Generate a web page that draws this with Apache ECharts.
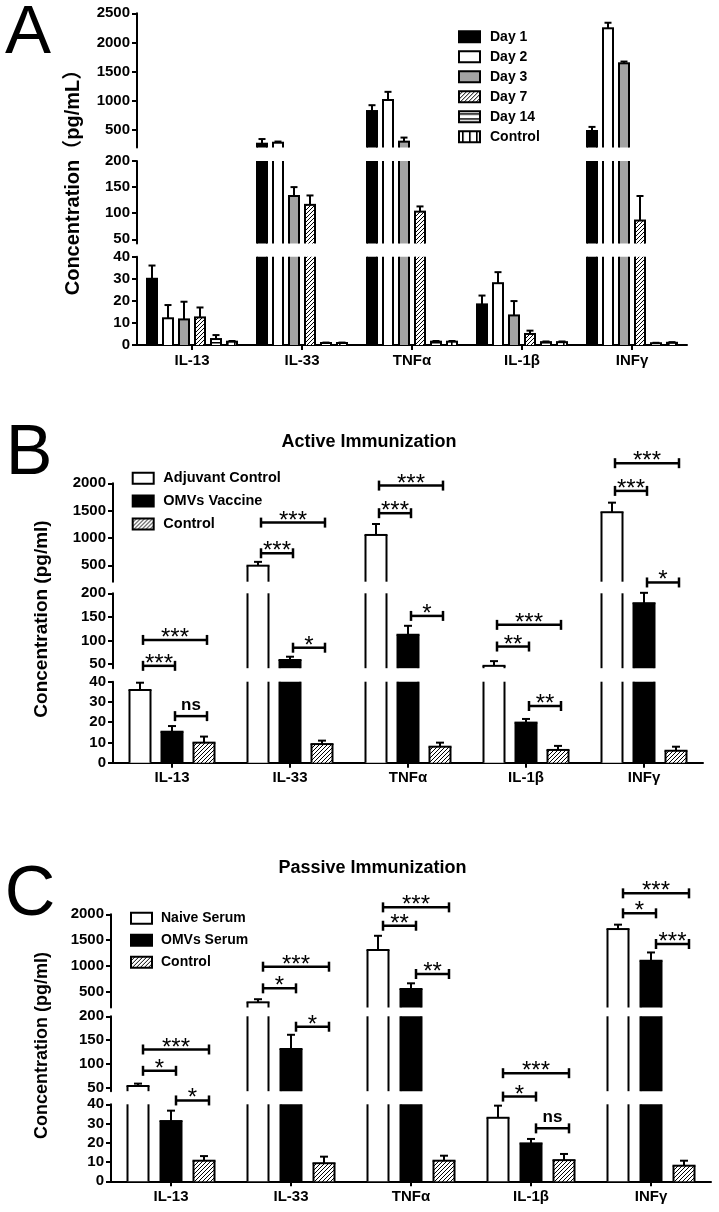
<!DOCTYPE html>
<html><head><meta charset="utf-8">
<script src="https://cdn.jsdelivr.net/npm/echarts@6/dist/echarts.min.js"></script>
<style>html,body{margin:0;padding:0;background:#fff}#c{width:719px;height:1212px}</style>
</head><body><div id="c"></div>
<script>
// ---------------- DATA ----------------
const cytokines = ['IL-13', 'IL-33', 'TNFα', 'IL-1β', 'INFγ'];

// Panel A (time course)
const dayGroups = ['Day 1', 'Day 2', 'Day 3', 'Day 7', 'Day 14', 'Control'];
const day1 = [30, 265, 825, 18.4, 483];
const day1Err = [6, 80, 100, 4, 70];
const day2 = [12.1, 282, 1014, 28, 2243];
const day2Err = [6, 20, 140, 5, 95];
const day3 = [11.6, 133, 300, 13.4, 1643];
const day3Err = [8, 17, 70, 6.5, 30];
const day7 = [12.5, 116, 103, 5, 86];
const day7Err = [4.5, 18, 10, 1.5, 47];
const day14 = [2.7, 0.9, 1.5, 1.3, 0.8];
const day14Err = [1.8, 0.2, 0.3, 0.3, 0.2];
const dayControl = [1.5, 0.9, 1.5, 1.3, 1];
const dayControlErr = [0.3, 0.2, 0.3, 0.3, 0.3];

// Panel B (active immunization)
const activeGroups = ['Adjuvant Control', 'OMVs Vaccine', 'Control'];
const adjuvantControl = [35.9, 493, 1055, 46, 1471];
const adjuvantControlErr = [3.6, 70, 200, 10, 175];
const omvsVaccine = [15.3, 58.4, 112, 19.8, 179];
const omvsVaccineErr = [2.8, 7, 19, 1.8, 22];
const activeControl = [9.9, 9.2, 7.9, 6.3, 5.9];
const activeControlErr = [3, 1.7, 2, 2, 2];
// [category, fromBar, toBar, segment, level, label]
const activeBrackets = [
  [0, 0, 2, 'mid', 101, '***'], [0, 0, 1, 'mid', 46, '***'], [0, 1, 2, 'low', 23, 'ns'],
  [1, 0, 2, 'top', 1281, '***'], [1, 0, 1, 'top', 720, '***'], [1, 1, 2, 'mid', 84.5, '*'],
  [2, 0, 2, 'top', 1958, '***'], [2, 0, 1, 'top', 1453, '***'], [2, 1, 2, 'mid', 152, '*'],
  [3, 0, 2, 'mid', 133, '***'], [3, 0, 1, 'mid', 87, '**'], [3, 1, 2, 'low', 28, '**'],
  [4, 0, 2, 'top', 2368, '***'], [4, 0, 1, 'top', 1861, '***'], [4, 1, 2, 'mid', 223, '*']
];

// Panel C (passive immunization)
const passiveGroups = ['Naive Serum', 'OMVs Serum', 'Control'];
const naiveSerum = [53, 300, 1310, 33, 1715];
const naiveSerumErr = [5, 60, 275, 6.3, 85];
const omvsSerum = [31.3, 131, 557, 19.7, 1103];
const omvsSerumErr = [5.4, 30, 110, 2.3, 160];
const passiveControl = [10.7, 9.4, 10.7, 11, 8.1];
const passiveControlErr = [2.4, 3.4, 2.6, 3.2, 2.6];
const passiveBrackets = [
  [0, 0, 2, 'mid', 130, '***'], [0, 0, 1, 'mid', 85, '*'], [0, 1, 2, 'low', 42, '*'],
  [1, 0, 2, 'top', 988, '***'], [1, 0, 1, 'top', 570, '*'], [1, 1, 2, 'mid', 178, '*'],
  [2, 0, 2, 'top', 2134, '***'], [2, 0, 1, 'top', 1779, '**'], [2, 1, 2, 'top', 847, '**'],
  [3, 0, 2, 'mid', 80, '***'], [3, 0, 1, 'low', 44, '*'], [3, 1, 2, 'low', 27.5, 'ns'],
  [4, 0, 2, 'top', 2405, '***'], [4, 0, 1, 'top', 2019, '*'], [4, 1, 2, 'top', 1426, '***']
];

// Axis tick labels
const topTicksA = [500, 1000, 1500, 2000, 2500];
const topTicksBC = [500, 1000, 1500, 2000];
const midTicks = [50, 100, 150, 200];
const lowTicks = [0, 10, 20, 30, 40];

// ---------------- STYLE ----------------
const FF = '"Liberation Sans", Arial, "Noto Sans CJK SC", sans-serif';

function makePattern(kind) {
  const cv = document.createElement('canvas');
  const ctx = cv.getContext('2d');
  if (kind === 'diag') {
    const s = 4; cv.width = s; cv.height = s;
    ctx.fillStyle = '#fff'; ctx.fillRect(0, 0, s, s);
    ctx.strokeStyle = '#000'; ctx.lineWidth = 1;
    for (let k = -1; k <= 1; k++) {
      ctx.beginPath(); ctx.moveTo(k * s, s); ctx.lineTo(k * s + s, 0); ctx.stroke();
    }
  } else if (kind === 'horiz') {
    cv.width = 4; cv.height = 5;
    ctx.fillStyle = '#fff'; ctx.fillRect(0, 0, 4, 5);
    ctx.fillStyle = '#000'; ctx.fillRect(0, 2, 4, 1.5);
  } else {
    cv.width = 7; cv.height = 4;
    ctx.fillStyle = '#fff'; ctx.fillRect(0, 0, 7, 4);
    ctx.fillStyle = '#000'; ctx.fillRect(3, 0, 1.6, 4);
  }
  return { image: cv, repeat: 'repeat' };
}
const diagFill = makePattern('diag');

const panels = [
  {
    key: 'A', groups: dayGroups,
    values: [day1, day2, day3, day7, day14, dayControl],
    errors: [day1Err, day2Err, day3Err, day7Err, day14Err, dayControlErr],
    fills: ['#000', '#fff', '#a3a3a3', diagFill, makePattern('horiz'), makePattern('vert')],
    left: 137, width: 550, barWidth: 10, pitch: 16, cap: 7, bShift: 0,
    segs: [
      { name: 'top', top: 13.3, height: 134.2, min: 200, max: 2500, ticks: topTicksA },
      { name: 'mid', top: 161, height: 82.5, min: 42, max: 200, ticks: midTicks },
      { name: 'low', top: 256.7, height: 88.3, min: 0, max: 40, ticks: lowTicks }
    ],
    brackets: [],
    legend: { left: 458, top: 29.7, fontSize: 14, gap: 6, lh: 14, pad: 5 }
  },
  {
    key: 'B', groups: activeGroups,
    values: [adjuvantControl, omvsVaccine, activeControl],
    errors: [adjuvantControlErr, omvsVaccineErr, activeControlErr],
    fills: ['#fff', '#000', diagFill],
    left: 113, width: 590, barWidth: 21, pitch: 32, cap: 8, bShift: 3,
    segs: [
      { name: 'top', top: 483.3, height: 98.4, min: 200, max: 2000, ticks: topTicksBC },
      { name: 'mid', top: 593.3, height: 74.9, min: 41, max: 200, ticks: midTicks },
      { name: 'low', top: 681.7, height: 81, min: 0, max: 40, ticks: lowTicks }
    ],
    brackets: activeBrackets,
    legend: { left: 131.7, top: 470.8, fontSize: 14.5, gap: 7.8, lh: 15, pad: 4.6 }
  },
  {
    key: 'C', groups: passiveGroups,
    values: [naiveSerum, omvsSerum, passiveControl],
    errors: [naiveSerumErr, omvsSerumErr, passiveControlErr],
    fills: ['#fff', '#000', diagFill],
    left: 111, width: 600, barWidth: 21, pitch: 33, cap: 8, bShift: 5,
    segs: [
      { name: 'top', top: 914.3, height: 93.2, min: 200, max: 2000, ticks: topTicksBC },
      { name: 'mid', top: 1016.3, height: 74.9, min: 42, max: 200, ticks: midTicks },
      { name: 'low', top: 1104.3, height: 77, min: 0, max: 40, ticks: lowTicks }
    ],
    brackets: passiveBrackets,
    legend: { left: 130, top: 911.3, fontSize: 14, gap: 8, lh: 14, pad: 4 }
  }
];

function barOffset(p, g) {
  return (g - (p.groups.length - 1) / 2) * p.pitch;
}

function outlineRender(p) {
  return function (params, api) {
    const c = api.value(0), g = api.value(1), v = api.value(2), e = api.value(3);
    const cs = params.coordSys;
    const top = cs.y, bot = cs.y + cs.height;
    const base = api.coord([c, 0]);
    const cx = base[0] + barOffset(p, g);
    const y0 = base[1];
    const yv = api.coord([c, v])[1];
    const hw = p.barWidth / 2;
    const ls = { stroke: '#000', lineWidth: 2 };
    const ch = [];
    const ys = Math.max(yv, top), ye = Math.min(y0, bot);
    if (ye > ys) {
      ch.push({ type: 'line', shape: { x1: cx - hw, y1: ys, x2: cx - hw, y2: ye }, style: ls });
      ch.push({ type: 'line', shape: { x1: cx + hw, y1: ys, x2: cx + hw, y2: ye }, style: ls });
    }
    if (yv >= top - 0.5 && yv <= bot + 0.5) {
      ch.push({ type: 'line', shape: { x1: cx - hw - 1, y1: yv, x2: cx + hw + 1, y2: yv }, style: ls });
      const yt = api.coord([c, v + e])[1];
      ch.push({ type: 'line', shape: { x1: cx, y1: yv, x2: cx, y2: yt }, style: ls });
      ch.push({ type: 'line', shape: { x1: cx - p.cap / 2, y1: yt, x2: cx + p.cap / 2, y2: yt }, style: ls });
    }
    return { type: 'group', children: ch };
  };
}

function bracketRender(p, list) {
  return function (params, api) {
    const b = list[params.dataIndex];
    const cx = api.coord([b[0], 0])[0];
    const x1 = cx + barOffset(p, b[1]) + p.bShift;
    const x2 = cx + barOffset(p, b[2]) + p.bShift;
    const y = api.coord([b[0], b[4]])[1];
    const ls = { stroke: '#000', lineWidth: 2.5 };
    const star = b[5].indexOf('*') >= 0;
    return {
      type: 'group', children: [
        { type: 'line', shape: { x1: x1, y1: y, x2: x2, y2: y }, style: ls },
        { type: 'line', shape: { x1: x1, y1: y - 5, x2: x1, y2: y + 5 }, style: ls },
        { type: 'line', shape: { x1: x2, y1: y - 5, x2: x2, y2: y + 5 }, style: ls },
        {
          type: 'text', x: (x1 + x2) / 2, y: star ? y - 1.6 : y - 11.3,
          style: {
            text: b[5], textAlign: 'center', textVerticalAlign: 'middle', fill: '#000',
            font: star ? '24px ' + FF : 'bold 17px ' + FF
          }
        }
      ]
    };
  };
}

const option = {
  animation: false, backgroundColor: '#fff',
  grid: [], xAxis: [], yAxis: [], series: [], legend: [], graphic: []
};

let gi = 0;
panels.forEach(p => {
  p.segs.forEach(s => {
    const isLow = s.name === 'low';
    option.grid.push({ left: p.left, top: s.top, width: p.width, height: s.height, containLabel: false, outerBoundsMode: 'none' });
    option.xAxis.push({
      type: 'category', gridIndex: gi, data: cytokines, show: isLow, boundaryGap: true,
      axisLine: { show: true, onZero: false, lineStyle: { color: '#000', width: 2 } },
      axisTick: { show: true, alignWithLabel: true, length: 5, lineStyle: { color: '#000', width: 2 } },
      axisLabel: { color: '#000', fontWeight: 'bold', fontSize: 15, fontFamily: FF, margin: 8 },
      splitLine: { show: false }
    });
    option.yAxis.push({
      type: 'value', gridIndex: gi, min: s.min, max: s.max, splitLine: { show: false },
      axisLine: { show: true, lineStyle: { color: '#000', width: 2 } },
      axisTick: { show: true, length: 5, lineStyle: { color: '#000', width: 2 }, customValues: s.ticks },
      axisLabel: {
        color: '#000', fontWeight: 'bold', fontSize: 15, fontFamily: FF, margin: 7,
        customValues: s.ticks, formatter: v => String(v)
      }
    });
    p.groups.forEach((gname, g) => {
      option.series.push({
        type: 'bar', name: p.key + ':' + gname, xAxisIndex: gi, yAxisIndex: gi,
        data: p.values[g], barWidth: p.barWidth,
        barGap: ((p.pitch - p.barWidth) / p.barWidth * 100).toFixed(2) + '%',
        itemStyle: { color: p.fills[g], borderWidth: 0 }, clip: true, silent: true, z: 2
      });
    });
    const items = [];
    p.groups.forEach((gname, g) => {
      p.values[g].forEach((v, c) => items.push([c, g, v, p.errors[g][c]]));
    });
    option.series.push({
      type: 'custom', name: p.key + '-outline-' + s.name, xAxisIndex: gi, yAxisIndex: gi,
      data: items, renderItem: outlineRender(p), clip: false, silent: true, z: 3
    });
    const bl = p.brackets.filter(b => b[3] === s.name);
    if (bl.length) {
      option.series.push({
        type: 'custom', name: p.key + '-brackets-' + s.name, xAxisIndex: gi, yAxisIndex: gi,
        data: bl.map(b => [b[0], b[4]]), renderItem: bracketRender(p, bl), clip: false, silent: true, z: 4
      });
    }
    gi++;
  });
  const L = p.legend;
  option.legend.push({
    orient: 'vertical', left: L.left, top: L.top, itemWidth: 21, itemHeight: 11, itemGap: L.gap,
    selectedMode: false, icon: 'rect', padding: 0,
    data: p.groups.map(g => p.key + ':' + g),
    formatter: n => n.split(':')[1],
    itemStyle: { borderColor: '#000', borderWidth: 2 },
    textStyle: { color: '#000', fontWeight: 'bold', fontSize: L.fontSize, fontFamily: FF, lineHeight: L.lh, padding: [0, 0, 0, L.pad] }
  });
});

function txt(x, y, text, font, rot) {
  return {
    type: 'text', x: x, y: y, rotation: rot || 0, silent: true,
    style: { text: text, font: font, fill: '#000', textAlign: 'center', textVerticalAlign: 'middle' }
  };
}
option.graphic = [
  txt(28, 34, 'A', '69px ' + FF),
  txt(29, 455, 'B', '70px ' + FF),
  txt(30, 896, 'C', '70px ' + FF),
  txt(73.5, 177.5, 'Concentration（pg/mL）', 'bold 20px ' + FF, Math.PI / 2),
  txt(42, 619, 'Concentration (pg/ml)', 'bold 19px ' + FF, Math.PI / 2),
  txt(42.5, 1045.5, 'Concentration (pg/ml)', 'bold 18px ' + FF, Math.PI / 2),
  txt(369, 441.7, 'Active Immunization', 'bold 18px ' + FF),
  txt(372.5, 868.3, 'Passive Immunization', 'bold 18px ' + FF)
];

const chart = echarts.init(document.getElementById('c'), null, { renderer: 'canvas' });
chart.setOption(option);
</script>
</body></html>
